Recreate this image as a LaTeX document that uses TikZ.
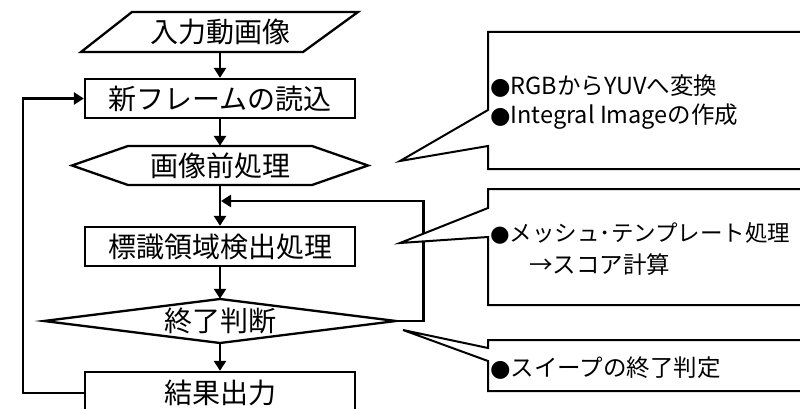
\documentclass[tikz,border=0pt]{standalone}
\usepackage{fontspec}
\setmainfont{Noto Sans CJK JP}
\newfontfamily\bulletfont{DejaVu Sans}
\newcommand{\blt}{{\bulletfont ●}}
\usetikzlibrary{arrows.meta}
\begin{document}
\begin{tikzpicture}[x=1pt,y=-1pt,
  flow/.style={line width=2.6pt,line join=miter},
  arr/.style={flow,-{Triangle[length=10pt,width=12pt]}},
  procbox/.style={draw,line width=2.3pt,minimum width=270pt,minimum height=39pt,inner sep=0pt,font=\fontsize{28}{30}\selectfont},
  shapetext/.style={inner sep=0pt,font=\fontsize{28}{30}\selectfont},
  callout/.style={draw,line width=2pt,line join=miter,fill=white},
  notetext/.style={anchor=west,inner sep=0pt,font=\fontsize{23.5}{25}\selectfont}]
\useasboundingbox (0,0) rectangle (800,409);
\clip (0,0) rectangle (800,409);
\fill[white] (0,0) rectangle (800,409);

% input parallelogram
\draw[flow,line width=2.3pt] (132,12) -- (358,12) -- (303,52) -- (81,52) -- cycle;
\node[shapetext,minimum width=222pt,minimum height=40pt] (in) at (220,32) {入力動画像};

% read new frame
\node[procbox] (read) at (220,98.5) {新フレームの読込};

% preprocessing hexagon
\draw[flow,line width=2.3pt] (72,165.5) -- (128,146) -- (312,146) -- (368,165.5) -- (312,185) -- (128,185) -- cycle;
\node[shapetext,minimum width=296pt,minimum height=39pt] (pre) at (220,165.5) {画像前処理};

% detection
\node[procbox] (det) at (220,246.5) {標識領域検出処理};

% decision diamond
\draw[flow,line width=2.3pt] (44,321) -- (220,299) -- (396,321) -- (220,343) -- cycle;
\node[shapetext,minimum width=352pt,minimum height=44pt] (dec) at (220,321) {終了判断};

% result
\node[procbox,minimum height=42pt] (res) at (220,393) {結果出力};

% connectors
\draw[arr] (in.south) -- (read.north);
\draw[arr] (read.south) -- (pre.north);
\draw[arr] (pre.south) -- (det.north);
\draw[arr] (det.south) -- (dec.north);
\draw[arr] (dec.south) -- (res.north);
\coordinate (loopL) at (23,300);
\draw[arr] (res.west) -- (res.west -| loopL) |- (read.west);
\coordinate (fbR) at (423.5,250);
\coordinate (merge) at (221,201);
\draw[arr] (dec.east) -| (fbR) |- (merge);

% callouts
\draw[callout] (488,110) -- (488,32) -- (812,32) -- (812,169) -- (488,169) -- (488,146) -- (400,161) -- cycle;
\node[notetext] (n1a) at (490,86) {\blt RGBからYUVへ変換};
\node[notetext] (n1b) at (490,117) {\blt Integral Imageの作成};

\draw[callout] (488,208) -- (488,189) -- (812,189) -- (812,305) -- (488,305) -- (488,237) -- (400,243) -- cycle;
\node[notetext,font=\fontsize{22.5}{25}\selectfont] (n2a) at (490,233) {\blt メッシュ･テンプレート処理};
\node[notetext] (n2b) at (529,265) {→スコア計算};

\draw[callout] (488,348) -- (488,340) -- (812,340) -- (812,391) -- (488,391) -- (488,361) -- (403,330) -- cycle;
\node[notetext] (n3) at (490,368) {\blt スイープの終了判定};
\end{tikzpicture}
\end{document}
